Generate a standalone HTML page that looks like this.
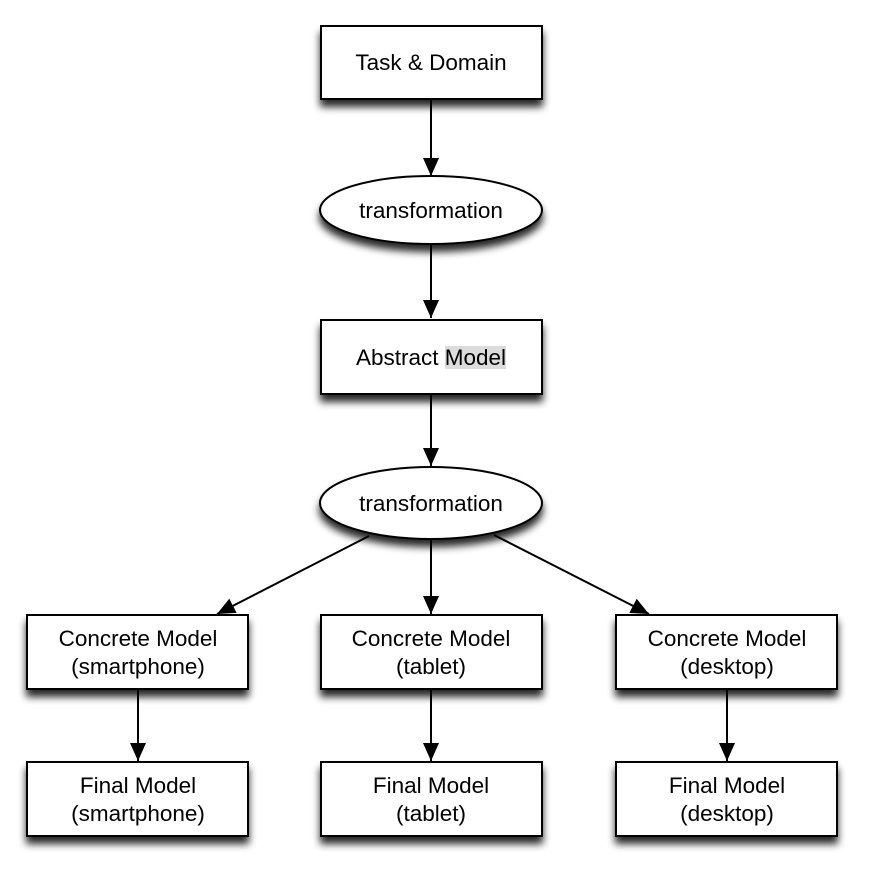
<!DOCTYPE html>
<html><head><style>
html,body{margin:0;padding:0;background:#fff;width:870px;height:870px;overflow:hidden}
text{font-family:"Liberation Sans",sans-serif;font-size:22.5px;fill:#000}
</style></head><body>
<svg width="870" height="870" xmlns="http://www.w3.org/2000/svg">
<defs>
<filter id="sh" x="-20%" y="-30%" width="140%" height="180%">
<feGaussianBlur in="SourceAlpha" stdDeviation="4"/>
<feOffset dx="0" dy="7" result="b"/>
<feComponentTransfer><feFuncA type="linear" slope="0.85"/></feComponentTransfer>
<feMerge><feMergeNode/><feMergeNode in="SourceGraphic"/></feMerge>
</filter>
<marker id="ah" markerWidth="18" markerHeight="16" refX="18" refY="8" orient="auto" markerUnits="userSpaceOnUse">
<path d="M0,0 L18,8 L0,16 Z" fill="#000"/>
</marker>
</defs>
<g stroke="#000" stroke-width="2" fill="none">
<line x1="431" y1="99" x2="431" y2="176" marker-end="url(#ah)"/>
<line x1="431" y1="244" x2="431" y2="318" marker-end="url(#ah)"/>
<line x1="431" y1="394" x2="431" y2="466" marker-end="url(#ah)"/>
<line x1="431" y1="540" x2="431" y2="614" marker-end="url(#ah)"/>
<line x1="369" y1="536" x2="217" y2="614" marker-end="url(#ah)"/>
<line x1="494" y1="535" x2="649" y2="614" marker-end="url(#ah)"/>
<line x1="138" y1="689" x2="138" y2="761" marker-end="url(#ah)"/>
<line x1="431" y1="689" x2="431" y2="761" marker-end="url(#ah)"/>
<line x1="727" y1="689" x2="727" y2="761" marker-end="url(#ah)"/>
</g>
<g fill="#fff" stroke="#000" stroke-width="2" filter="url(#sh)">
<rect x="321" y="26" width="221" height="73"/>
<ellipse cx="431" cy="210" rx="111" ry="34"/>
<rect x="321" y="320" width="221" height="74"/>
<ellipse cx="431" cy="503" rx="111" ry="36"/>
<rect x="27" y="615" width="221" height="74"/>
<rect x="321" y="615" width="221" height="74"/>
<rect x="616" y="615" width="221" height="74"/>
<rect x="27" y="762" width="221" height="74"/>
<rect x="321" y="762" width="221" height="74"/>
<rect x="616" y="762" width="221" height="74"/>
</g>
<rect x="445" y="346" width="61" height="23" fill="#dcdcdc"/>
<g text-anchor="middle">
<text x="431" y="70">Task &amp; Domain</text>
<text x="431" y="218">transformation</text>
<text x="431" y="365">Abstract Model</text>
<text x="431" y="511">transformation</text>
<text x="138" y="646">Concrete Model</text><text x="138" y="674">(smartphone)</text>
<text x="431" y="646">Concrete Model</text><text x="431" y="674">(tablet)</text>
<text x="727" y="646">Concrete Model</text><text x="727" y="674">(desktop)</text>
<text x="138" y="793">Final Model</text><text x="138" y="821">(smartphone)</text>
<text x="431" y="793">Final Model</text><text x="431" y="821">(tablet)</text>
<text x="727" y="793">Final Model</text><text x="727" y="821">(desktop)</text>
</g>
</svg>
</body></html>
